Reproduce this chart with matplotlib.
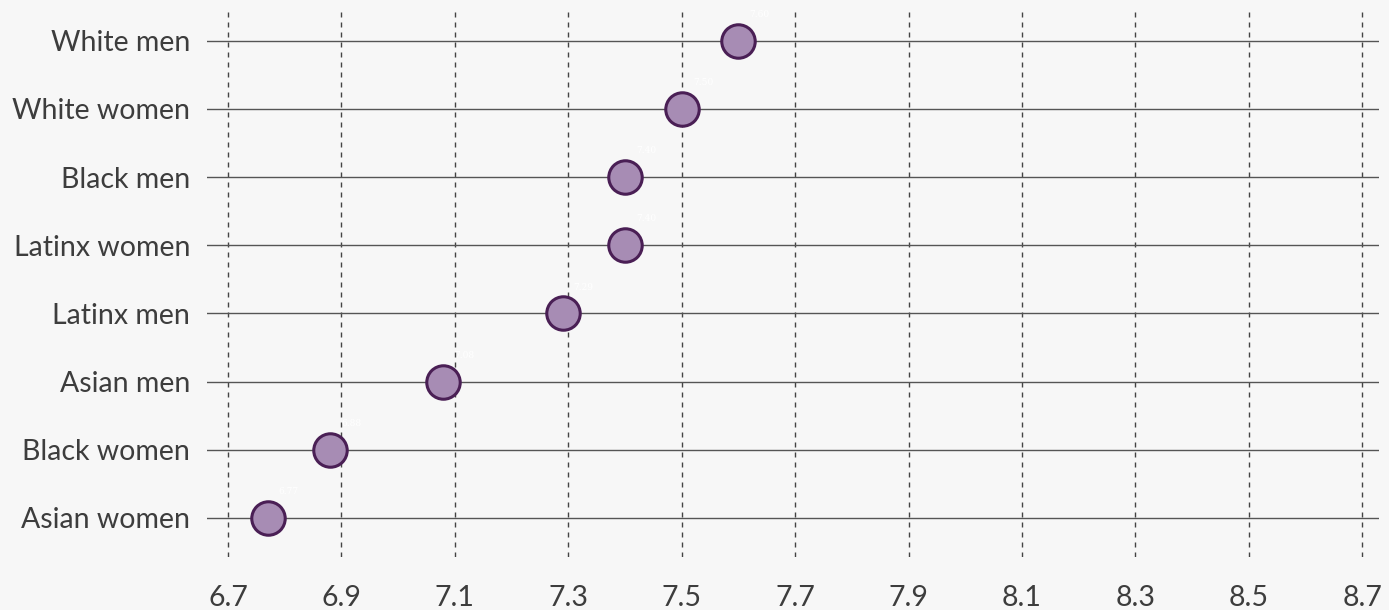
import matplotlib.pyplot as plt

plt.rcParams["font.family"] = ["Lato", "DejaVu Sans"]

# data
groups = ["White men", "White women", "Black men", "Latinx women",
          "Latinx men", "Asian men", "Black women", "Asian women"]
values = [7.60, 7.50, 7.40, 7.40, 7.29, 7.08, 6.88, 6.77]
xticks = [6.7, 6.9, 7.1, 7.3, 7.5, 7.7, 7.9, 8.1, 8.3, 8.5, 8.7]

bg = "#f7f7f7"
fig = plt.figure(figsize=(13.89, 6.10), dpi=100, facecolor=bg)
ax = fig.add_axes([0.149, 0.087, 0.844, 0.897])
ax.set_facecolor(bg)

ypos = list(range(len(groups) - 1, -1, -1))

# grid lines
for t in xticks:
    ax.axvline(t, color="#444444", lw=1.0, ls=(0, (3.6, 3.6)), zorder=1)
for y in ypos:
    ax.axhline(y, color="#555555", lw=1.0, zorder=2)

ax.scatter(values, ypos, s=580, color="#a78cb4",
           edgecolor="#4a1f55", linewidth=2.2, zorder=3)

# faint value labels
for v, y in zip(values, ypos):
    ax.annotate(f"{v:.2f}", (v, y), xytext=(8, 19), textcoords="offset points",
                color="white", fontsize=6.5, family="DejaVu Serif",
                va="center", ha="left", zorder=4)

ax.set_xlim(6.663, 8.730)
ax.set_ylim(-0.572, 7.455)
ax.set_xticks(xticks)
ax.set_xticklabels([f"{t:.1f}" for t in xticks])
ax.set_yticks(ypos)
ax.set_yticklabels(groups)
ax.tick_params(axis="both", length=0, labelsize=20.5, colors="#3d3d3d")
ax.tick_params(axis="x", pad=20)
ax.tick_params(axis="y", pad=12)
for s in ax.spines.values():
    s.set_visible(False)

plt.savefig("out.png", dpi=100, facecolor=bg)
